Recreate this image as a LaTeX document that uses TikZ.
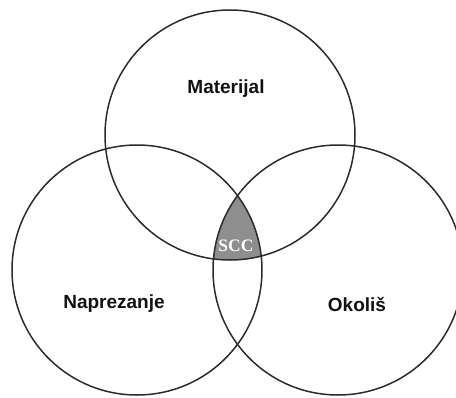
\documentclass[tikz,border=0pt]{standalone}
\usepackage{fontspec}
\setmainfont{Liberation Sans}
\newfontfamily\serifbold{Liberation Serif}
\definecolor{lineclr}{HTML}{2B2B2B}
\definecolor{sccgray}{HTML}{8E8E8E}
\definecolor{txt}{HTML}{111111}
\begin{document}
\begin{tikzpicture}[x=1pt,y=-1pt,
  venn/.style={circle,draw=lineclr,line width=1.5pt,minimum size=250pt,inner sep=0pt},
  lbl/.style={font=\fontsize{19}{21}\selectfont\bfseries,text=txt,inner sep=0pt}]
\useasboundingbox (0,0) rectangle (456,397);
\clip (0,0) rectangle (456,397);
\begin{scope}
  \clip (230,135) circle (125);
  \clip (137,270) circle (125);
  \fill[sccgray] (338,270) circle (125);
\end{scope}
\node[venn] (mat) at (230,135) {};
\node[venn] (nap) at (137,270) {};
\node[venn] (oko) at (338,270) {};
\node[lbl] (tmat) at (226,89) {Materijal};
\node[lbl] (tnap) at (114,304) {Naprezanje};
\node[lbl] (toko) at (357,304) {Okoliš};
\node[inner sep=0pt,text=white,font=\serifbold\fontsize{17.5}{19}\selectfont\bfseries] (scc) at (236,246) {SCC};
\end{tikzpicture}
\end{document}
